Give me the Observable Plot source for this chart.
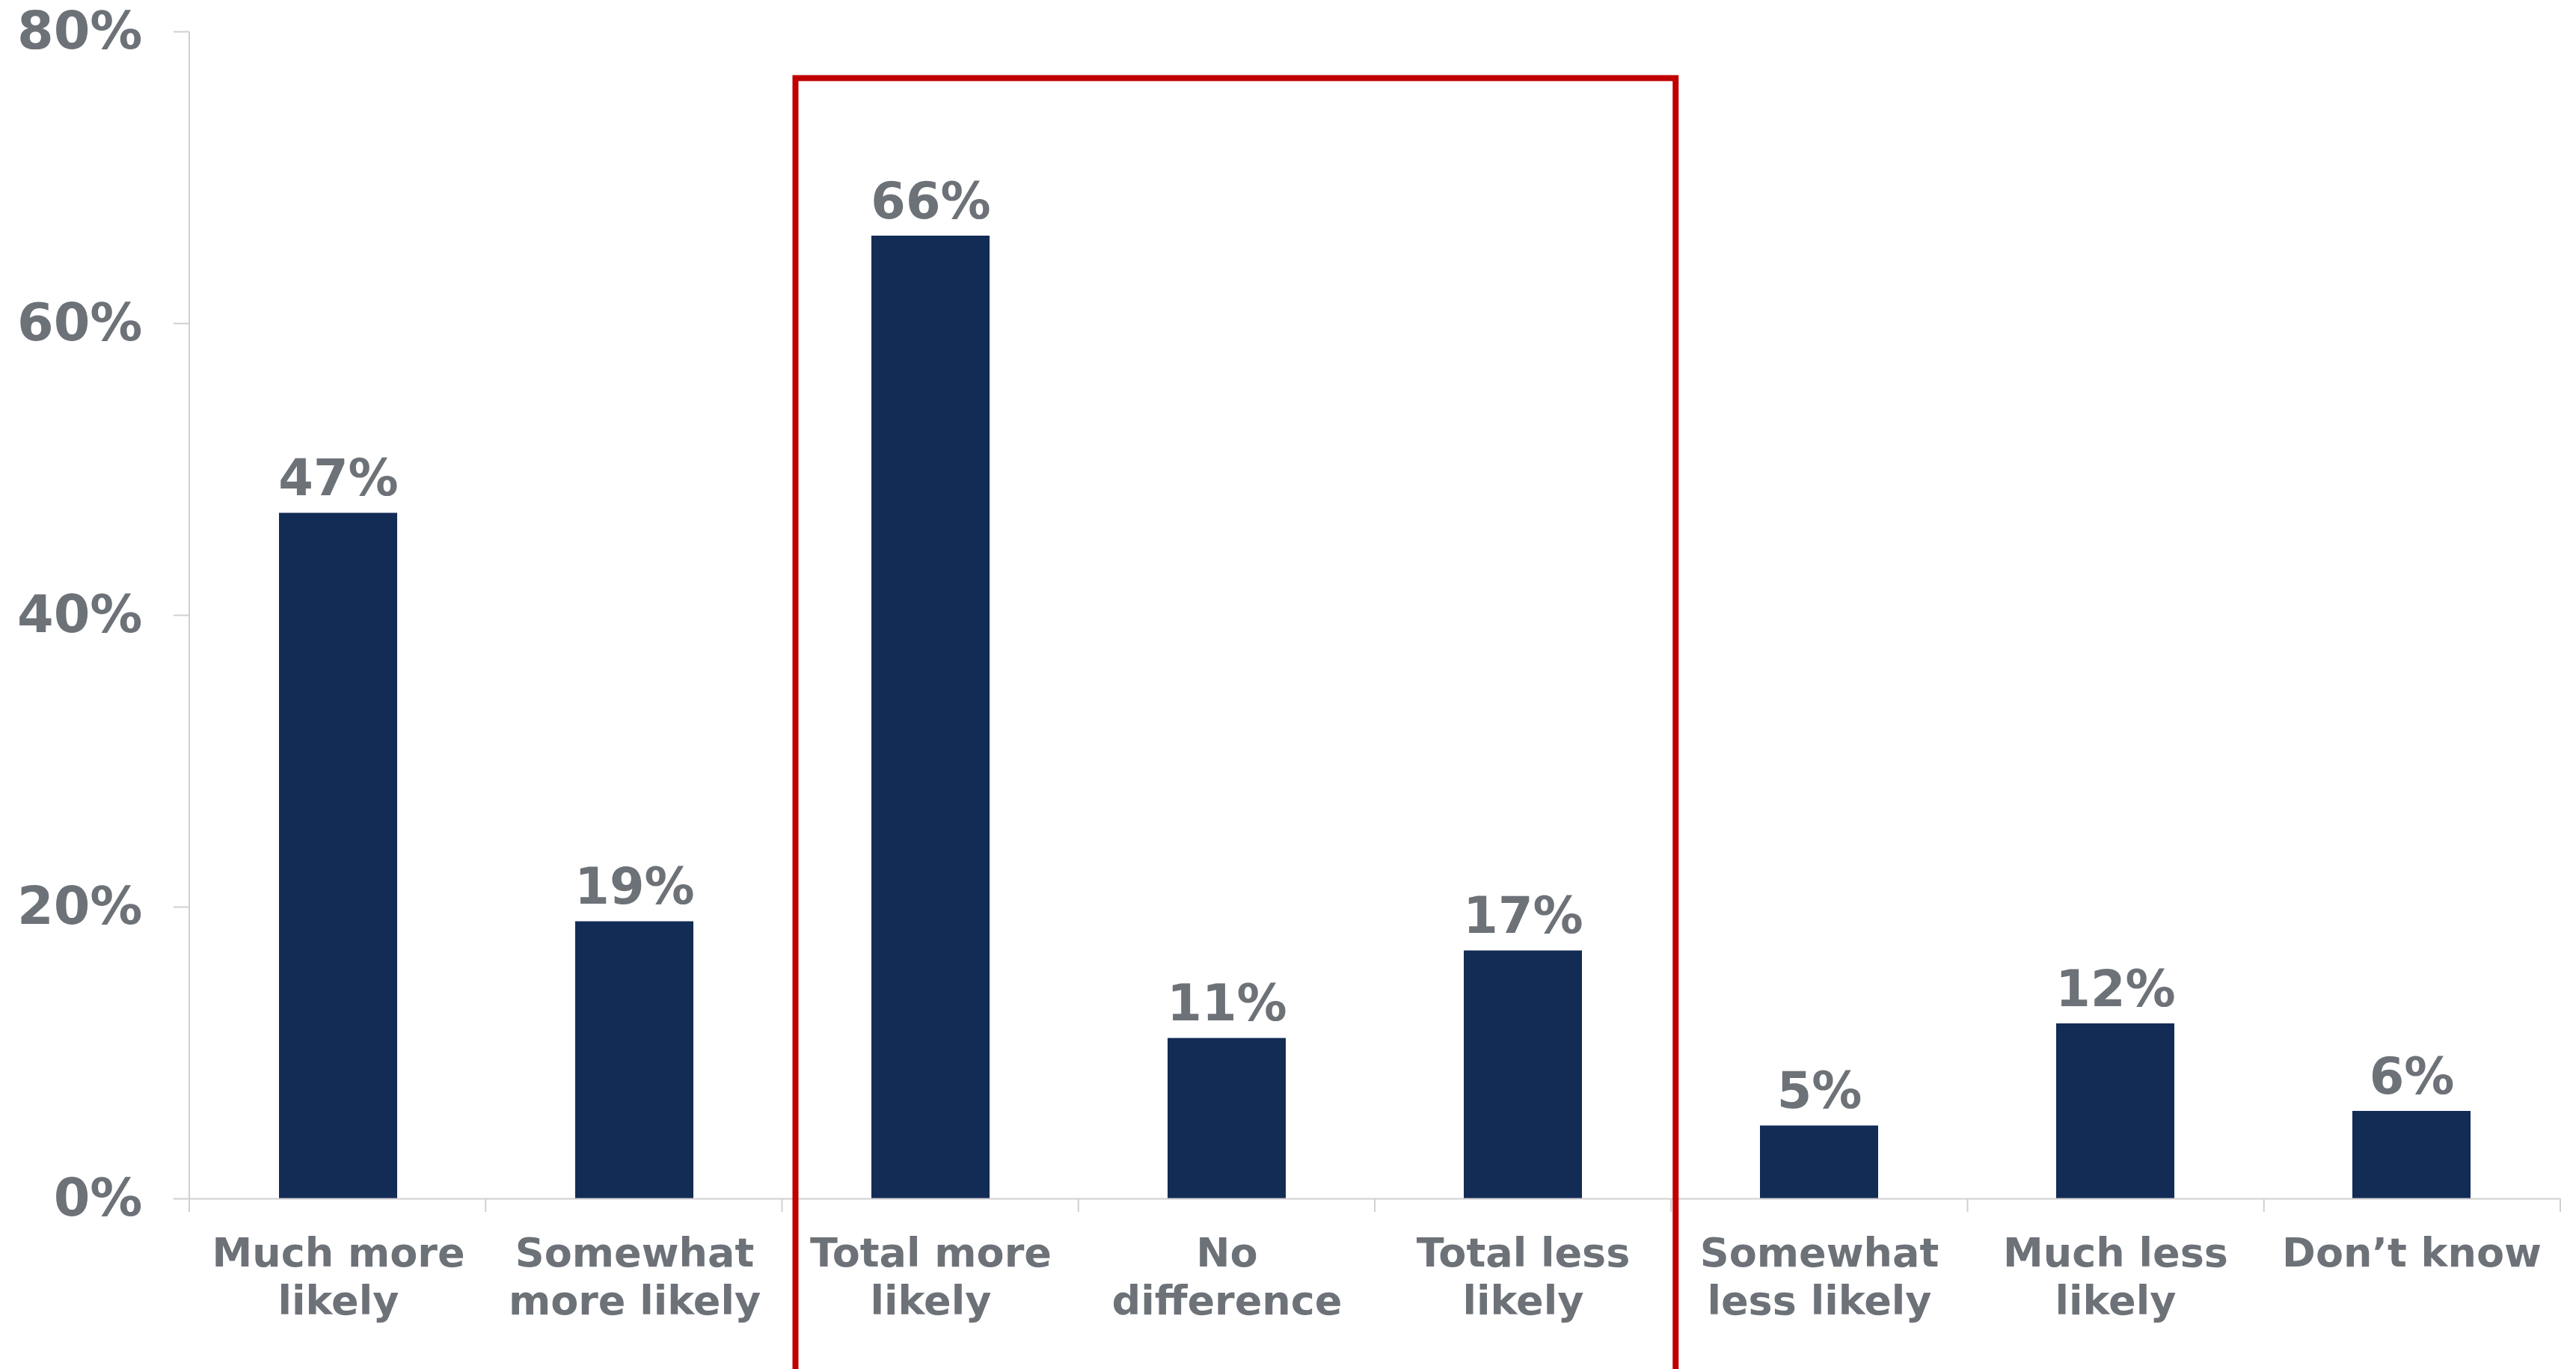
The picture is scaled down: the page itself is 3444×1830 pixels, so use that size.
<!DOCTYPE html>
<html>
<head>
<meta charset="utf-8">
<script src="https://cdn.jsdelivr.net/npm/d3@7"></script>
<script src="https://cdn.jsdelivr.net/npm/@observablehq/plot@0.6"></script>
<style>
  html, body { margin: 0; padding: 0; background: #ffffff; }
  #chart { width: 3444px; height: 1830px; overflow: hidden; }
</style>
</head>
<body>
<div id="chart"></div>
<script>
// ---- data ----
const categories = [
  "Much more likely", "Somewhat more likely", "Total more likely", "No difference",
  "Total less likely", "Somewhat less likely", "Much less likely", "Don’t know"
];
const values = [47, 19, 66, 11, 17, 5, 12, 6];
const tickLabels = [
  "Much more\nlikely", "Somewhat\nmore likely", "Total more\nlikely", "No\ndifference",
  "Total less\nlikely", "Somewhat\nless likely", "Much less\nlikely", "Don’t know"
];
const yTicks = [0, 20, 40, 60, 80];
const highlighted = ["Total more likely", "No difference", "Total less likely"];
const boxTop = 76.8;

const data = categories.map((c, i) => ({category: c, value: values[i]}));

const gray = "#6d7278";
const navy = "#132c56";
const axisGray = "#d0d0d0";
const red = "#c00000";
const W = 3444, H = 1830;

const chart = Plot.plot({
  width: W,
  height: H,
  marginTop: 42,
  marginBottom: 228,
  marginLeft: 253,
  marginRight: 21,
  style: {fontFamily: "'DejaVu Sans', Verdana, sans-serif", fontWeight: "bold", background: "#ffffff", color: gray},
  x: {domain: categories, paddingInner: 0.6, paddingOuter: 0.3, label: null},
  y: {domain: [0, 80], label: null},
  marks: [
    Plot.axisY({
      ticks: yTicks, tickSize: 21, tickPadding: 42, stroke: axisGray, strokeWidth: 2, strokeOpacity: 1,
      tickFormat: d => d + "%", fontSize: 70, fill: gray, fontWeight: "bold"
    }),
    Plot.axisX({
      tickSize: 0, tickPadding: 45, fontSize: 54, lineHeight: 1.19, fill: gray, fontWeight: "bold",
      tickFormat: d => tickLabels[categories.indexOf(d)]
    }),
    Plot.barY(data, {x: "category", y: "value", fill: navy}),
    Plot.ruleY([0], {stroke: axisGray, strokeWidth: 2}),
    Plot.text(data, {
      x: "category", y: "value", text: d => d.value + "%", dy: -24, lineAnchor: "bottom",
      fontSize: 67, fill: gray, fontWeight: "bold"
    })
  ]
});

document.getElementById("chart").appendChild(chart);

// Boundary ticks, y-axis line and highlight box from the plot's own scales
const xs = chart.scale("x");
const ys = chart.scale("y");
const band = d3.scaleBand(xs.domain, xs.range)
  .paddingInner(xs.paddingInner ?? xs.padding ?? 0.6)
  .paddingOuter(xs.paddingOuter ?? xs.padding ?? 0.3)
  .align(xs.align ?? 0.5);
const yf = d3.scaleLinear(ys.domain, ys.range);
const step = band.step();
const boundary = c => band(c) - band.paddingInner() * step / 2;
const base = yf(0);
const svg = d3.select(chart);
const g = svg.append("g");

// y-axis line
g.append("line")
  .attr("x1", boundary(categories[0])).attr("x2", boundary(categories[0]))
  .attr("y1", yf(80)).attr("y2", base)
  .attr("stroke", axisGray).attr("stroke-width", 2);

// category boundary ticks
const bx = categories.map(boundary).concat([boundary(categories[categories.length - 1]) + step]);
g.selectAll("line.bt").data(bx).join("line")
  .attr("class", "bt")
  .attr("x1", d => d).attr("x2", d => d)
  .attr("y1", base).attr("y2", base + 18)
  .attr("stroke", axisGray).attr("stroke-width", 2);

// highlight box
const x0 = boundary(highlighted[0]) + 18;
const x1 = boundary(highlighted[highlighted.length - 1]) + step + 6;
g.append("rect")
  .attr("x", x0).attr("y", yf(boxTop))
  .attr("width", x1 - x0).attr("height", H + 20 - yf(boxTop))
  .attr("fill", "none").attr("stroke", red).attr("stroke-width", 8);
</script>
</body>
</html>
